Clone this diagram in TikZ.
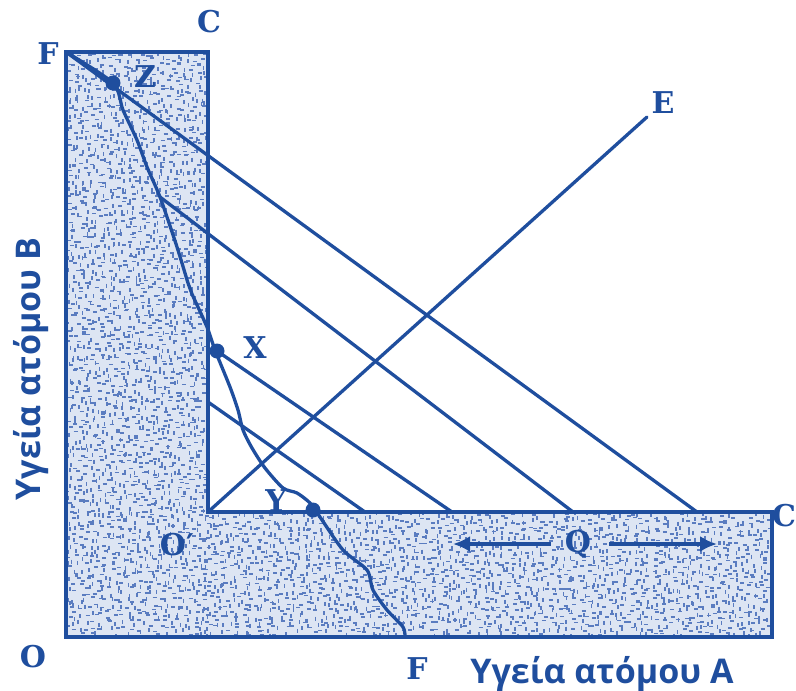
\documentclass[tikz,border=0pt]{standalone}
\usepackage{fontspec}
\setmainfont{DejaVu Serif}
\newfontfamily\axisfont{Open Sans}
\usetikzlibrary{arrows.meta}
\definecolor{ink}{HTML}{1F4E9E}
\definecolor{paper}{HTML}{DDE5F3}
\definecolor{stip}{HTML}{5A7CC0}
\tikzset{
  lbl/.style={font=\bfseries\fontsize{30}{30}\selectfont, text=ink, inner sep=0pt},
  axl/.style={font=\axisfont\bfseries\fontsize{34}{34}\selectfont, text=ink, inner sep=0pt},
  bline/.style={draw=ink, line width=3.3pt, line cap=round},
  pdot/.style={circle, fill=ink, inner sep=0pt, minimum size=15pt},
  qarrow/.style={draw=ink, line width=3.3pt, -{Latex[length=17pt,width=16pt]}},
  stipmark/.style={stip, line width=1.7pt}
}
\begin{document}
\begin{tikzpicture}[x=1pt,y=-1pt]
\useasboundingbox (0,0) rectangle (796,691);
% shaded L region
\begin{scope}
  \clip (66,52) -- (208,52) -- (208,512) -- (772,512) -- (772,637) -- (66,637) -- cycle;
  \fill[paper] (0,0) rectangle (796,691);
  \pgfmathsetseed{11}
  \foreach \xx in {68,74,...,206}{
    \foreach \yy in {54,60,...,512}{
      \pgfmathsetmacro\ox{\xx+3*rand}
      \pgfmathsetmacro\oy{\yy+3*rand}
      \pgfmathsetmacro\hv{rnd}
      \ifdim\hv pt<0.5pt
        \draw[stipmark] (\ox,\oy) -- ++(4,0);
      \else
        \draw[stipmark] (\ox,\oy) -- ++(0,4);
      \fi
    }}
  \foreach \xx in {208,214,...,770}{
    \foreach \yy in {514,520,...,636}{
      \pgfmathsetmacro\ox{\xx+3*rand}
      \pgfmathsetmacro\oy{\yy+3*rand}
      \pgfmathsetmacro\hv{rnd}
      \ifdim\hv pt<0.5pt
        \draw[stipmark] (\ox,\oy) -- ++(4,0);
      \else
        \draw[stipmark] (\ox,\oy) -- ++(0,4);
      \fi
    }}
  \foreach \xx in {68,74,...,206}{
    \foreach \yy in {514,520,...,636}{
      \pgfmathsetmacro\ox{\xx+3*rand}
      \pgfmathsetmacro\oy{\yy+3*rand}
      \pgfmathsetmacro\hv{rnd}
      \ifdim\hv pt<0.5pt
        \draw[stipmark] (\ox,\oy) -- ++(4,0);
      \else
        \draw[stipmark] (\ox,\oy) -- ++(0,4);
      \fi
    }}
\end{scope}
% key coordinates
\coordinate (Ftop) at (66,52);
\coordinate (Ctop) at (208,52);
\coordinate (Op) at (208,512);
\coordinate (Cr) at (772,512);
\coordinate (BR) at (772,637);
\coordinate (O) at (66,637);
\coordinate (Fbot) at (405,637);
\coordinate (Eend) at (647,117);
\coordinate (Zp) at (113,83);
\coordinate (Xp) at (217,351);
\coordinate (Yp) at (313,510);
\coordinate (L2s) at (160,197);
\coordinate (L4s) at (208,402);
\coordinate (L1e) at (697,512);
\coordinate (L2e) at (573,512);
\coordinate (L3e) at (452,512);
\coordinate (L4e) at (365,512);
% region outline
\draw[bline, line join=miter, line cap=butt] (Ftop) -- (Ctop) -- (Op) -- (Cr) -- (BR) -- (O) -- cycle;
% budget lines
\draw[bline] (Ftop) -- (L1e);
\draw[bline] (L2s) -- (L2e);
\draw[bline] (Xp) -- (L3e);
\draw[bline] (L4s) -- (L4e);
% E ray
\draw[bline] (Op) -- (Eend);
% frontier curve
\draw[bline, line join=round] plot[smooth, tension=0.45] coordinates {
  (66,52) (113,83) (123,110) (137,140) (147,167) (160,197) (177,247)
  (188,283) (192,294) (207,327) (215,350) (230,387) (238,410) (243,430)
  (252,448) (265,468) (283,488) (297,493) (310,503) (320,517) (343,550)
  (367,570) (373,590) (387,610) (403,627) (405,637)};
% points
\node[pdot] (Z) at (Zp) {};
\node[pdot] (X) at (Xp) {};
\node[pdot] (Y) at (Yp) {};
% Q arrows
\node[lbl] (Q) at (578,544) {Q};
\coordinate (Qlt) at (453,544);
\coordinate (Qrt) at (717,544);
\draw[qarrow] (Q.west) ++(-14,0) -- (Qlt);
\draw[qarrow] (Q.east) ++(18,0) -- (Qrt);
% labels
\node[lbl] (lF1) at (48,54) {F};
\node[lbl] (lC1) at (209,22) {C};
\node[lbl] (lZ) at (145,77) {Z};
\node[lbl] (lE) at (663,103) {E};
\node[lbl] (lX) at (255,348) {X};
\node[lbl] (lY) at (276,501) {Y};
\node[lbl] (lOp) at (177,545) {O′};
\node[lbl] (lC2) at (784,516) {C};
\node[lbl] (lO) at (33,657) {O};
\node[lbl] (lF2) at (417,669) {F};
\node[axl, anchor=base] (axA) at (602,683) {Υγεία ατόμου Α};
\node[axl, anchor=base, rotate=90] (axB) at (40,369) {Υγεία ατόμου Β};
\end{tikzpicture}
\end{document}
